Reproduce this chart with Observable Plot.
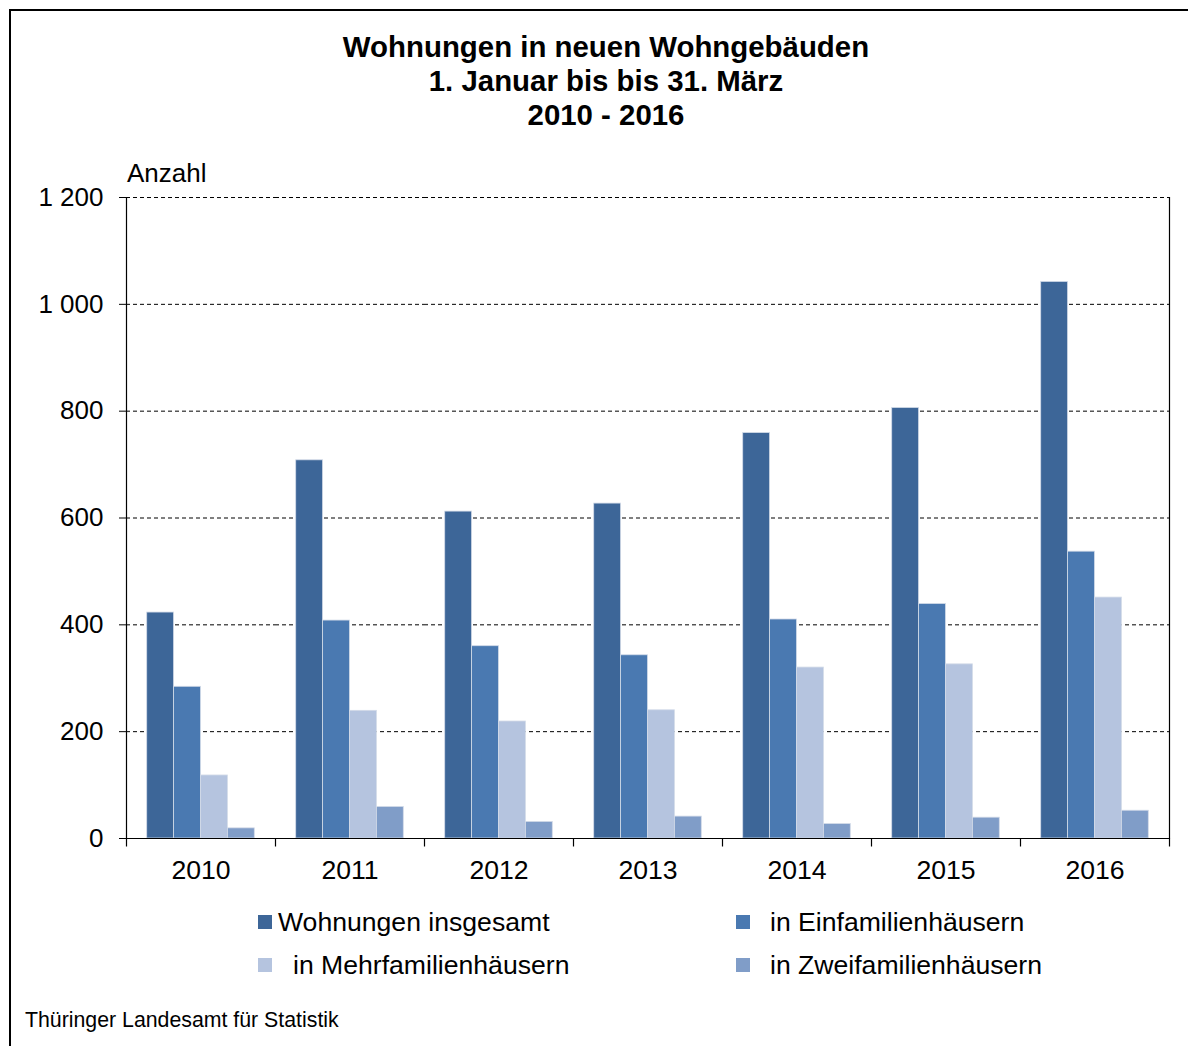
<!DOCTYPE html>
<html>
<head>
<meta charset="utf-8">
<script src="https://cdn.jsdelivr.net/npm/d3@7"></script>
<script src="https://cdn.jsdelivr.net/npm/@observablehq/plot@0.6"></script>
<style>
  html, body { margin: 0; padding: 0; background: #fff; }
  body { width: 1188px; height: 1046px; position: relative; overflow: hidden; font-family: "Liberation Sans", Arial, sans-serif; color: #000; }
  #frame { position: absolute; left: 9px; top: 9px; width: 1240px; height: 1100px; border-left: 2px solid #000; border-top: 2px solid #000; }
  #chart { position: absolute; left: 0; top: 0; }
  .t { position: absolute; white-space: pre; line-height: 1; }
  #title { position: absolute; left: 11px; width: 1190px; top: 30px; text-align: center; font-weight: bold; font-size: 29.4px; line-height: 34px; }
  .sw { position: absolute; width: 14px; height: 14px; }
</style>
</head>
<body>
<div id="frame"></div>
<div id="chart"></div>
<div id="title"></div>
<div class="t" id="unit" style="left:127px; top:160px; font-size:26px;"></div>
<div id="legend"></div>
<div class="t" id="source" style="left:25px; top:1010px; font-size:21.3px;"></div>
<script>
const titleLines = ["Wohnungen in neuen Wohngebäuden", "1. Januar bis bis 31. März", "2010 - 2016"];
const unitLabel = "Anzahl";
const sourceText = "Thüringer Landesamt für Statistik";
const years = ["2010", "2011", "2012", "2013", "2014", "2015", "2016"];
const series = ["Wohnungen insgesamt", "in Einfamilienhäusern", "in Mehrfamilienhäusern", "in Zweifamilienhäusern"];
const insgesamt = [423, 708, 612, 627, 759, 806, 1042];
const einfamilien = [284, 408, 360, 343, 410, 439, 537];
const mehrfamilien = [118, 239, 219, 240, 320, 326, 451];
const zweifamilien = [19, 59, 31, 41, 27, 39, 52];
const colors = ["#3d6698", "#4a79b1", "#b5c4df", "#809dc8"];
const yTicks = [0, 200, 400, 600, 800, 1000, 1200];

document.getElementById("title").innerHTML = titleLines.join("<br>");
document.getElementById("unit").textContent = unitLabel;
document.getElementById("source").textContent = sourceText;

// legend
const legendItems = [
  {name: series[0], sx: 258, sy: 915, tx: 278, ty: 909},
  {name: series[1], sx: 736, sy: 915, tx: 770, ty: 909},
  {name: series[2], sx: 258, sy: 958, tx: 293, ty: 952},
  {name: series[3], sx: 736, sy: 958, tx: 770, ty: 952}
];
const legend = document.getElementById("legend");
legendItems.forEach((it) => {
  const s = document.createElement("div");
  s.className = "sw";
  s.style.left = it.sx + "px"; s.style.top = it.sy + "px";
  s.style.background = colors[series.indexOf(it.name)];
  legend.appendChild(s);
  const t = document.createElement("div");
  t.className = "t";
  t.style.left = it.tx + "px"; t.style.top = it.ty + "px"; t.style.fontSize = "26.6px";
  t.textContent = it.name;
  legend.appendChild(t);
});

const table = [];
const seriesValues = [insgesamt, einfamilien, mehrfamilien, zweifamilien];
years.forEach((y, i) => {
  series.forEach((s, j) => table.push({year: y, series: s, value: seriesValues[j][i]}));
});

const fmt = d3.formatLocale({decimal: ",", thousands: " ", grouping: [3], currency: ["", ""]}).format(",");
const lineShape = {draw(context, l) { context.moveTo(0, 0); context.lineTo(0, -l); }};

const plot = Plot.plot({
  width: 1188,
  height: 900,
  marginTop: 197,
  marginBottom: 62,
  marginLeft: 124,
  marginRight: 18,
  style: {fontFamily: "'Liberation Sans', Arial, sans-serif", fontSize: "26px", color: "#000", background: "transparent"},
  fx: {domain: years, padding: 0, label: null},
  x: {domain: series, paddingInner: 0, paddingOuter: 0.77, round: false, axis: null},
  y: {domain: [0, 1200], axis: null},
  color: {domain: series, range: colors},
  marks: [
    Plot.ruleY(yTicks.slice(1), {stroke: "#000", strokeWidth: 1, strokeDasharray: "4,3"}),
    Plot.barY(table, {fx: "year", x: "series", y: "value", fill: "series", stroke: "#d3dbe8", strokeWidth: 0.8}),
    Plot.ruleY([0], {stroke: "#000", strokeWidth: 1.2}),
    Plot.frame({anchor: "left", facetAnchor: "left", stroke: "#000", strokeWidth: 1.2}),
    Plot.frame({anchor: "right", facetAnchor: "right", stroke: "#000", strokeWidth: 1.2}),
    Plot.vector([0], {frameAnchor: "bottom-left", length: 8, rotate: 180, anchor: "start", shape: lineShape, stroke: "#000", strokeWidth: 1.2, fill: "none", strokeLinecap: "butt"}),
    Plot.vector([0], {frameAnchor: "bottom-right", facetAnchor: "right", length: 8, rotate: 180, anchor: "start", shape: lineShape, stroke: "#000", strokeWidth: 1.2, fill: "none", strokeLinecap: "butt"}),
    Plot.axisY({ticks: yTicks, tickSize: 7, tickPadding: 16, tickFormat: fmt, fontSize: 26, label: null, stroke: "#000"}),
    Plot.axisFx({anchor: "bottom", tickSize: 0, tickPadding: 22, fontSize: 26.6, label: null})
  ]
});
document.getElementById("chart").appendChild(plot);
</script>
</body>
</html>
